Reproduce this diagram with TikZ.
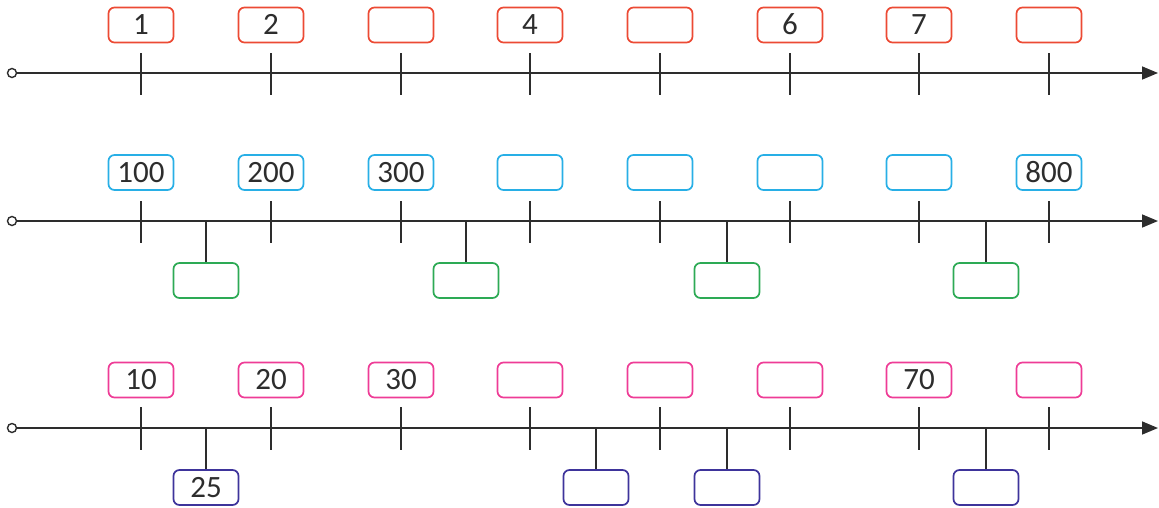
\documentclass[tikz,border=0pt]{standalone}
\usepackage{fontspec}
\setmainfont{Carlito}
\usetikzlibrary{arrows.meta}
\definecolor{cred}{RGB}{236,74,52}
\definecolor{cblue}{RGB}{40,175,230}
\definecolor{cgreen}{RGB}{45,170,85}
\definecolor{cpink}{RGB}{238,60,150}
\definecolor{cpurple}{RGB}{62,52,155}
\definecolor{cline}{RGB}{45,45,45}
\tikzset{
  lbl/.style={draw, rounded corners=6pt, minimum width=65pt, minimum height=35pt,
    inner sep=0pt, line width=1.7pt, font=\fontsize{31}{32}\selectfont,
    text=cline, text height=19.5pt, text depth=0pt},
  axisline/.style={draw=cline, line width=1.6pt, -{Triangle[length=16pt,width=13pt]}},
  tickline/.style={draw=cline, line width=1.6pt},
  origin/.style={circle, draw=cline, fill=white, line width=1.4pt, minimum size=9pt, inner sep=0pt}
}
\begin{document}
\begin{tikzpicture}[x=1pt,y=-1pt]
\useasboundingbox (0,0) rectangle (1159,507);
% Row 1
\node[origin] (c1) at (12,73) {};
\coordinate (e1) at (1158,73);
\draw[axisline] (c1) -- (e1);
\foreach \i/\x/\t in {1/141/1,2/271/2,3/401/,4/530/4,5/660/,6/790/6,7/919/7,8/1049/}{
  \coordinate (ta1\i) at (\x,53);
  \coordinate (tb1\i) at (\x,95);
  \draw[tickline] (ta1\i) -- (tb1\i);
  \node[lbl, draw=cred] (r1\i) at (\x,25) {\t};
}
% Row 2
\node[origin] (c2) at (12,221) {};
\coordinate (e2) at (1158,221);
\draw[axisline] (c2) -- (e2);
\foreach \i/\x/\t in {1/141/100,2/271/200,3/401/300,4/530/,5/660/,6/790/,7/919/,8/1049/800}{
  \coordinate (ta2\i) at (\x,201);
  \coordinate (tb2\i) at (\x,243);
  \draw[tickline] (ta2\i) -- (tb2\i);
  \node[lbl, draw=cblue] (r2\i) at (\x,172.5) {\t};
}
\foreach \i/\x in {1/206,2/466,3/727,4/986}{
  \coordinate (m2\i) at (\x,221);
  \node[lbl, draw=cgreen] (g\i) at (\x,280.5) {};
  \draw[tickline] (m2\i) -- (g\i.north);
}
% Row 3
\node[origin] (c3) at (12,428) {};
\coordinate (e3) at (1158,428);
\draw[axisline] (c3) -- (e3);
\foreach \i/\x/\t in {1/141/10,2/271/20,3/401/30,4/530/,5/660/,6/790/,7/919/70,8/1049/}{
  \coordinate (ta3\i) at (\x,407);
  \coordinate (tb3\i) at (\x,450);
  \draw[tickline] (ta3\i) -- (tb3\i);
  \node[lbl, draw=cpink] (r3\i) at (\x,380) {\t};
}
\foreach \i/\x/\t in {1/206/25,2/596/,3/727/,4/986/}{
  \coordinate (m3\i) at (\x,428);
  \node[lbl, draw=cpurple] (p\i) at (\x,487.5) {\t};
  \draw[tickline] (m3\i) -- (p\i.north);
}
\end{tikzpicture}
\end{document}
